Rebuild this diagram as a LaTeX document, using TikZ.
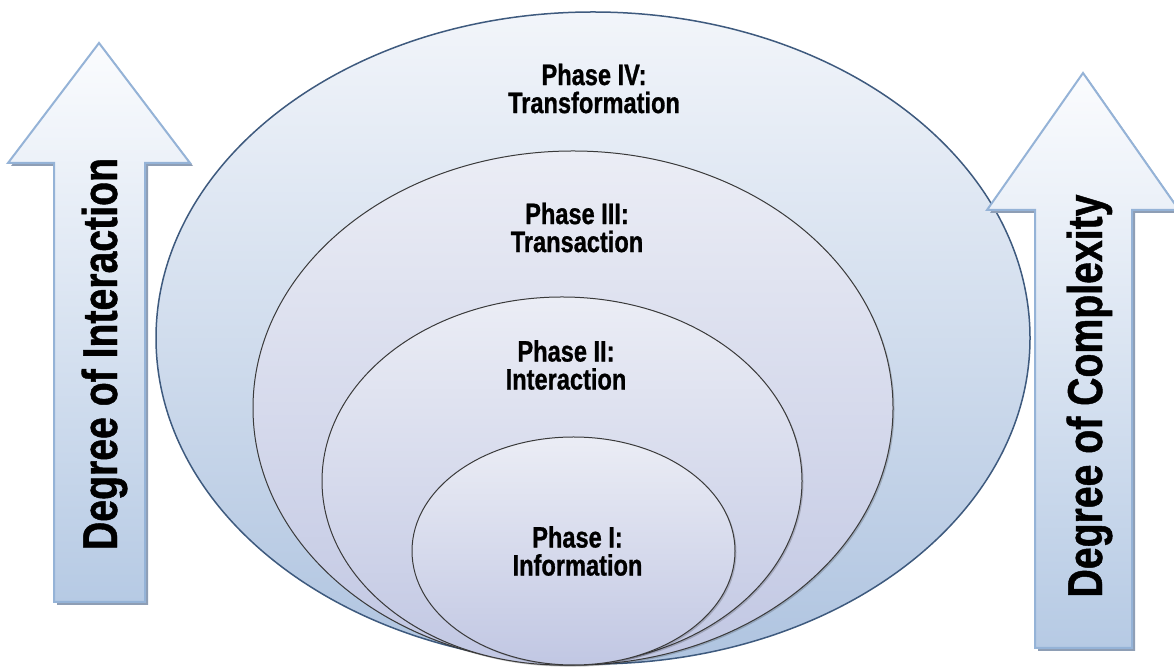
\documentclass[tikz,border=0pt]{standalone}
\usepackage{fontspec}
\setmainfont[FakeStretch=0.8]{Liberation Sans}
\newfontfamily\lblfont[FakeStretch=0.8,FakeBold=0.9]{Liberation Sans Bold}
\usetikzlibrary{shapes.geometric,shadows}
\definecolor{arrowline}{HTML}{95B3D7}
\definecolor{arrowtop}{HTML}{FBFCFE}
\definecolor{arrowbot}{HTML}{B6CAE4}
\definecolor{outertop}{HTML}{F2F5FA}
\definecolor{outerbot}{HTML}{AFC4E0}
\definecolor{outerline}{HTML}{3E5A7E}
\definecolor{innertop}{HTML}{EBEDF5}
\definecolor{innerbot}{HTML}{C1C7E3}
\definecolor{innerline}{HTML}{3A3A3A}
\definecolor{shadowcol}{HTML}{8E9EB5}
\tikzset{
  bigarrow/.style={draw=arrowline, line width=2pt, line join=miter,
    top color=arrowtop, bottom color=arrowbot,
    drop shadow={shadow xshift=3pt, shadow yshift=-3pt, fill=shadowcol, opacity=1}},
  outerell/.style={ellipse, draw=outerline, line width=1.5pt, inner sep=0pt,
    top color=outertop, bottom color=outerbot},
  innerell/.style={ellipse, draw=innerline, line width=1pt, inner sep=0pt,
    top color=innertop, bottom color=innerbot,
    drop shadow={shadow xshift=1.5pt, shadow yshift=-1.5pt, fill=black, opacity=0.18}},
  phaselabel/.style={align=center, inner sep=0pt,
    font=\lblfont\fontsize{29.5}{28}\selectfont},
  sidelabel/.style={rotate=90, anchor=base, inner sep=0pt,
    font=\lblfont\fontsize{49}{49}\selectfont}
}
\begin{document}
\begin{tikzpicture}[x=1pt,y=1pt]
\useasboundingbox (0,0) rectangle (1174,668);
\clip (0,0) rectangle (1174,668);
% ellipses
\node[outerell, minimum width=874pt, minimum height=652pt] (e4) at (593,330) {};
\node[innerell, minimum width=640pt, minimum height=514pt] (e3) at (573,260) {};
\node[innerell, minimum width=480pt, minimum height=368pt] (e2) at (562,187) {};
\node[innerell, minimum width=323pt, minimum height=228pt] (e1) at (573.5,117) {};
% labels
\node[phaselabel] (l4) at (594,579.5) {Phase IV:\\Transformation};
\node[phaselabel] (l3) at (577,440.5) {Phase III:\\Transaction};
\node[phaselabel] (l2) at (566,303) {Phase II:\\Interaction};
\node[phaselabel] (l1) at (577.5,117) {Phase I:\\Information};
% left arrow
\draw[bigarrow] (99,625) -- (190,505) -- (145,505) -- (145,66) -- (54,66) -- (54,505) -- (8,505) -- cycle;
% right arrow
\draw[bigarrow] (1083,595) -- (1179,458) -- (1132,458) -- (1132,20) -- (1035,20) -- (1035,458) -- (987,458) -- cycle;
% side labels
\node[sidelabel] (tl) at (117,314) {Degree of Interaction};
\node[sidelabel] (tr) at (1102,272) {Degree of Complexity};
\end{tikzpicture}
\end{document}
